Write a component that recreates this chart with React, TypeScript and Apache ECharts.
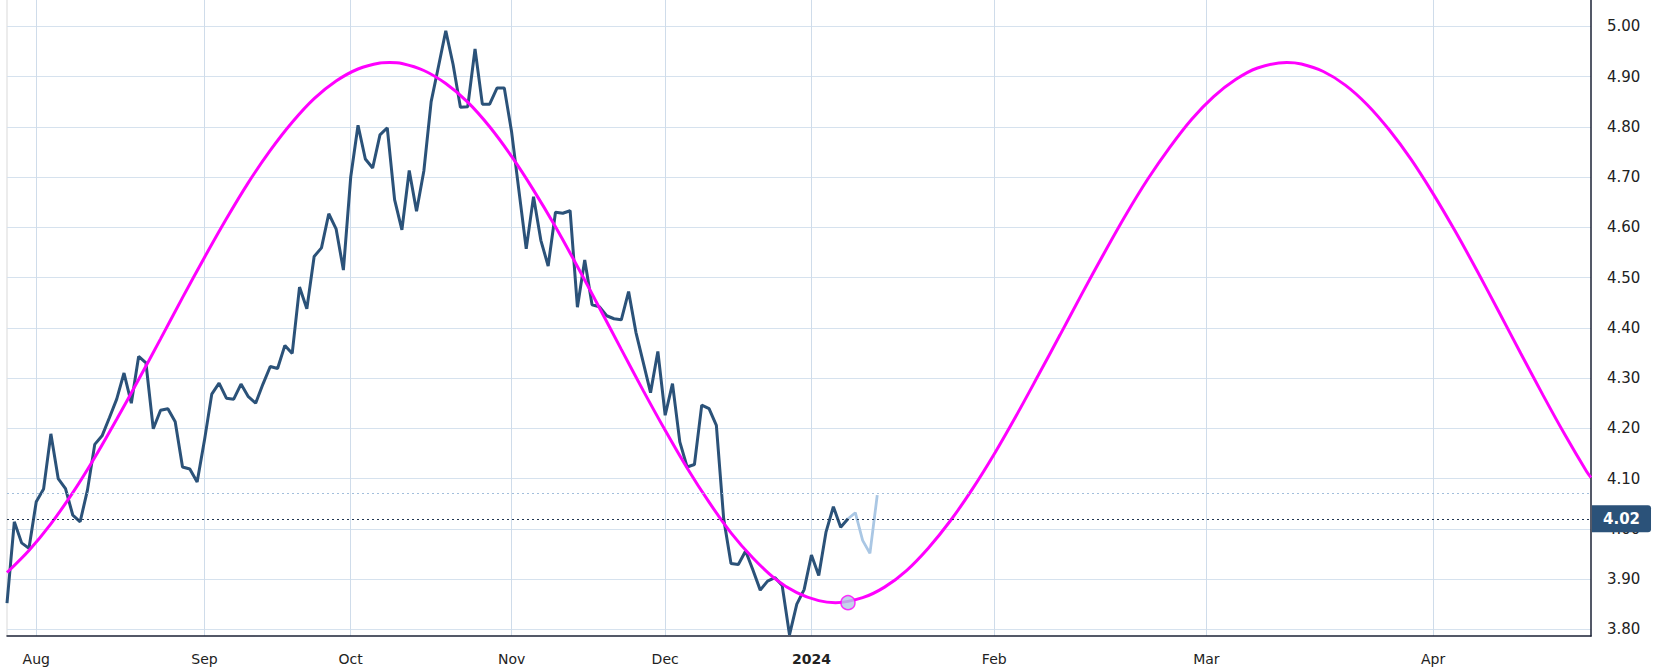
import React, { useEffect, useRef } from "react";
import * as echarts from "echarts";

// Month ticks on the slot axis (one slot per trading day up to mid-Jan, then one per calendar day)
const monthTicks = [4, 27, 47, 69, 90, 110, 135, 164, 195];
const monthLabels = ["Aug", "Sep", "Oct", "Nov", "Dec", "2024", "Feb", "Mar", "Apr"];

const yTicks = [3.8, 3.9, 4.0, 4.1, 4.2, 4.3, 4.4, 4.5, 4.6, 4.7, 4.8, 4.9, 5.0];

// Historical yield (dark line), slots 0..115
const historyValues = [
  3.852, 4.014, 3.972, 3.961, 4.054, 4.079, 4.189, 4.1, 4.08, 4.027,
  4.014, 4.077, 4.168, 4.185, 4.221, 4.258, 4.31, 4.25, 4.343, 4.33,
  4.199, 4.236, 4.239, 4.213, 4.123, 4.119, 4.093, 4.176, 4.268, 4.29,
  4.26, 4.258, 4.288, 4.263, 4.25, 4.288, 4.323, 4.319, 4.365, 4.349,
  4.481, 4.438, 4.542, 4.559, 4.627, 4.597, 4.515, 4.7, 4.803, 4.736,
  4.718, 4.784, 4.798, 4.655, 4.595, 4.713, 4.632, 4.712, 4.85, 4.92,
  4.991, 4.924, 4.839, 4.84, 4.955, 4.845, 4.845, 4.877, 4.877, 4.79,
  4.673, 4.557, 4.661, 4.574, 4.523, 4.63, 4.628, 4.633, 4.441, 4.535,
  4.446, 4.442, 4.424, 4.418, 4.416, 4.472, 4.391, 4.331, 4.271, 4.353,
  4.226, 4.289, 4.173, 4.123, 4.128, 4.246, 4.239, 4.206, 4.02, 3.931,
  3.929, 3.956, 3.918, 3.878, 3.896, 3.903, 3.887, 3.789, 3.85, 3.879,
  3.948, 3.907, 3.994, 4.044, 4.003, 4.02,
];

// Most recent days (light line), slots 115..119
const recentStart = 115;
const recentValues = [4.02, 4.032, 3.977, 3.951, 4.067];

// Cycle curve (magenta), read every 3 slots
const cycleSlots = [
  0, 3, 6, 9, 12, 15, 18, 21, 24, 27, 30, 33, 36, 39, 42, 45, 48, 51, 52.3,
  54, 57, 60, 63, 66, 69, 72, 75, 78, 81, 84, 87, 90, 93, 96, 99, 102, 105, 108, 111, 113.3,
  117, 120, 123, 126, 129, 132, 135, 138, 141, 144, 147, 150, 153, 156, 159, 162, 165, 168, 171, 175,
  177, 180, 183, 186, 189, 192, 195, 198, 201, 204, 207, 210, 213, 216, 216.6,
];
const cycleValues = [
  3.913, 3.957, 4.01, 4.072, 4.142, 4.218, 4.297, 4.378, 4.46, 4.54, 4.617, 4.689, 4.753, 4.809, 4.856, 4.891, 4.915, 4.927, 4.928,
  4.926, 4.912, 4.886, 4.849, 4.8, 4.741, 4.674, 4.601, 4.522, 4.44, 4.357, 4.275, 4.196, 4.121, 4.053, 3.992, 3.942, 3.901, 3.873, 3.857, 3.853,
  3.863, 3.884, 3.917, 3.962, 4.016, 4.079, 4.149, 4.225, 4.305, 4.386, 4.468, 4.548, 4.625, 4.696, 4.759, 4.815, 4.86, 4.894, 4.917, 4.928,
  4.925, 4.91, 4.883, 4.844, 4.794, 4.735, 4.667, 4.593, 4.514, 4.432, 4.349, 4.267, 4.188, 4.114, 4.102,
];

const cycleLow = [115, 3.853];
const lastPrice = 4.02;
const recentLast = 4.067;

export default function App() {
  const ref = useRef<HTMLDivElement>(null);

  useEffect(() => {
    if (!ref.current) return;
    const chart = echarts.init(ref.current, null, { renderer: "svg" });

    const historyData = historyValues.map((v, i) => [i, v]);
    const recentData = recentValues.map((v, i) => [recentStart + i, v]);
    const cycleData = cycleSlots.map((s, i) => [s, cycleValues[i]]);

    chart.setOption({
      animation: false,
      grid: { left: 7, right: 71, top: 0, bottom: 34, containLabel: false },
      xAxis: {
        type: "value",
        min: 0,
        max: 216.6,
        axisLine: { show: true, onZero: false, lineStyle: { color: "#1b2236", width: 1.5 } },
        axisTick: { show: false, customValues: monthTicks },
        splitLine: { show: true, lineStyle: { color: "#cfdcea", width: 1 } },
        axisLabel: {
          customValues: monthTicks,
          margin: 16,
          fontFamily: "DejaVu Sans",
          fontSize: 14,
          color: "#222",
          formatter: (v: number) => {
            const k = monthTicks.indexOf(Math.round(v));
            const t = k >= 0 ? monthLabels[k] : "";
            return t === "2024" ? "{b|2024}" : t;
          },
          rich: {
            b: { fontWeight: "bold", fontFamily: "DejaVu Sans", fontSize: 14, color: "#222" },
          },
        },
      },
      yAxis: {
        type: "value",
        position: "right",
        min: 3.7867,
        max: 5.0523,
        axisLine: { show: true, onZero: false, lineStyle: { color: "#1b2236", width: 1.5 } },
        axisTick: { show: false, customValues: yTicks },
        splitLine: { show: true, lineStyle: { color: "#d6e2ee", width: 1 } },
        axisLabel: {
          customValues: yTicks,
          margin: 16,
          fontFamily: "DejaVu Sans",
          fontSize: 15,
          color: "#222",
          formatter: (v: number) => v.toFixed(2),
        },
      },
      graphic: [
        {
          type: "line",
          shape: { x1: 7, y1: 0, x2: 7, y2: 636 },
          style: { stroke: "#ececec", lineWidth: 2 },
          silent: true,
        },
      ],
      series: [
        {
          type: "line",
          data: recentData,
          symbol: "none",
          lineStyle: { color: "#aac7e4", width: 2.8 },
          z: 2,
          markLine: {
            silent: true,
            symbol: "none",
            lineStyle: { color: "#a3bfdc", type: [2, 3], width: 1 },
            label: { show: false },
            data: [{ yAxis: recentLast }],
          },
        },
        {
          type: "line",
          data: historyData,
          symbol: "none",
          clip: false,
          lineStyle: { color: "#2b5279", width: 3 },
          z: 3,
          markLine: {
            silent: true,
            symbol: "none",
            lineStyle: { color: "#1f3550", type: [2, 3], width: 1 },
            label: {
              show: true,
              position: "end",
              distance: 1,
              formatter: lastPrice.toFixed(2),
              backgroundColor: "#2b5279",
              color: "#fff",
              fontFamily: "DejaVu Sans",
              fontWeight: "bold",
              fontSize: 15,
              lineHeight: 18,
              padding: [5, 11, 4, 11],
              borderRadius: [0, 3, 3, 0],
            },
            data: [{ yAxis: lastPrice }],
          },
        },
        {
          type: "line",
          data: cycleData,
          symbol: "none",
          smooth: 0.3,
          lineStyle: { color: "#ff00ff", width: 3 },
          z: 4,
        },
        {
          type: "scatter",
          data: [cycleLow],
          symbol: "circle",
          symbolSize: 14,
          itemStyle: { color: "#b3c9e3", borderColor: "#ff00ff", borderWidth: 1.5 },
          z: 5,
        },
      ],
    });

    return () => chart.dispose();
  }, []);

  return (
    <div
      ref={ref}
      style={{ position: "absolute", left: 0, top: 0, width: 1662, height: 670, background: "#fff" }}
    />
  );
}
